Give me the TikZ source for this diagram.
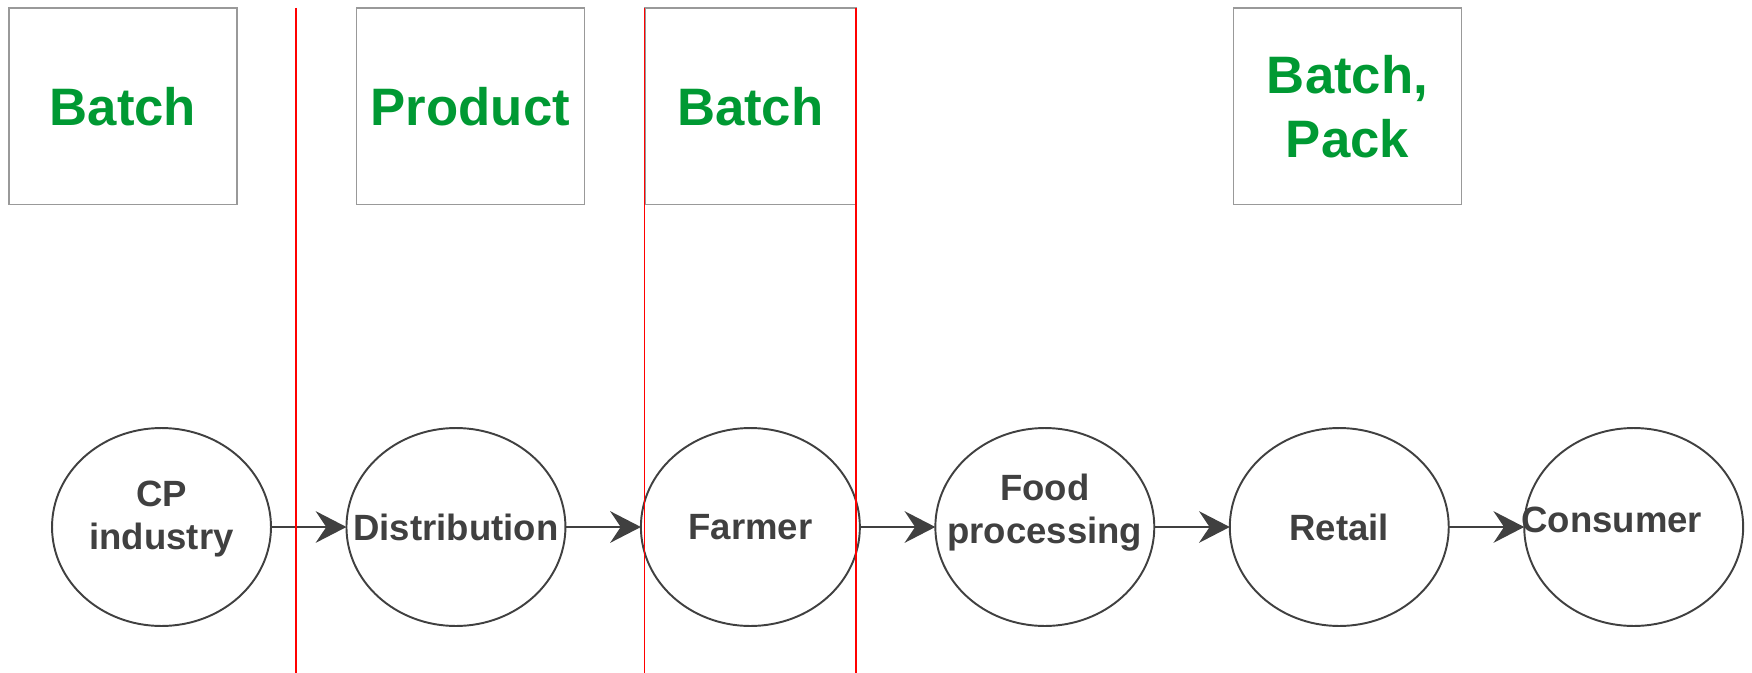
\documentclass[tikz,border=0pt]{standalone}
\usepackage{fontspec}
\setmainfont{Liberation Sans}
\usepackage{xcolor}
\usetikzlibrary{shapes.geometric, arrows.meta, positioning}

\definecolor{labelgreen}{HTML}{009933}
\definecolor{inkgray}{HTML}{404040}
\definecolor{framegray}{HTML}{999999}

\begin{document}
\begin{tikzpicture}[
    x=0.02cm, y=-0.02cm,
    tracebox/.style={rectangle, draw=framegray, line width=1pt, minimum width=#1, minimum height=3.93cm, inner sep=0pt, outer sep=0pt, text=labelgreen, font=\fontsize{30}{36.4}\selectfont\bfseries, align=center},
    tracebox/.default=4.56cm,
    stage/.style={ellipse, draw=inkgray, line width=1.1pt, minimum width=4.38cm, minimum height=3.96cm, inner sep=0pt, outer sep=0pt},
    stagetext/.style={text=inkgray, font=\fontsize{20.8}{24.5}\selectfont\bfseries, align=center, inner sep=0pt},
    divider/.style={draw=red, line width=0.8pt},
    flow/.style={-{Stealth[length=17.5pt, width=18pt, inset=6pt]}, line width=1.1pt, draw=inkgray},
]
    \useasboundingbox (0,0) rectangle (1752,673);

    % Row 1: traceability units
    \node[tracebox] (u1) at (122.9,106.2) {Batch};
    \node[tracebox] (u2) at (470.4,106.2) {Product};
    \node[tracebox=4.22cm] (u3) at (750.3,106.2) {Batch};
    \node[tracebox] (u4) at (1347.5,106.2) {Batch,\\Pack};

    % Row 2: supply chain actors
    \node[stage] (cp) at (161.5,527) {};
    \node[stage, right=1.51cm of cp] (dist) {};
    \node[stage, right=1.51cm of dist] (farm) {};
    \node[stage, right=1.51cm of farm] (food) {};
    \node[stage, right=1.51cm of food] (ret) {};
    \node[stage, right=1.51cm of ret] (cons) {};

    % Actor labels
    \node[stagetext] (cpT) at ([shift={(0,-8)}]cp) {CP\\industry};
    \node[stagetext] (distT) at (dist) {Distribution};
    \node[stagetext] (farmT) at (farm) {Farmer};
    \node[stagetext] (foodT) at ([shift={(0,-14)}]food) {Food\\processing};
    \node[stagetext] (retT) at (ret) {Retail};
    \node[stagetext] (consT) at ([shift={(-22,-7)}]cons) {Consumer};

    % Flow connections
    \draw[flow] (cp) -- (dist);
    \draw[flow] (dist) -- (farm);
    \draw[flow] (farm) -- (food);
    \draw[flow] (food) -- (ret);
    \draw[flow] (ret) -- (cons);

    % Red dividers
    \draw[divider] (296.1,7.8) -- (296.1,673);
    \draw[divider] (644.7,7.8) -- (644.7,673);
    \draw[divider] (855.9,7.8) -- (855.9,673);
\end{tikzpicture}
\end{document}
